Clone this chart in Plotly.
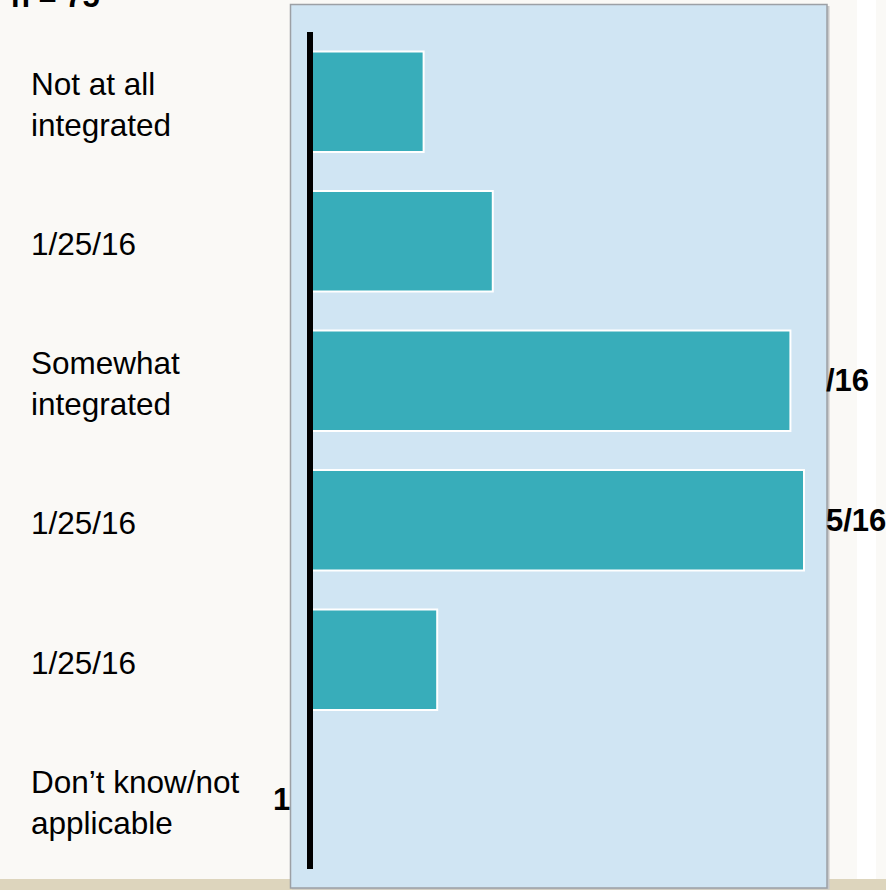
import plotly.graph_objects as go

# ---- data ----
categories = ["Not at all<br>integrated", "1/25/16", "Somewhat<br>integrated",
              "1/25/16", "1/25/16", "Don\u2019t know/not<br>applicable"]
values = [9.2, 14.8, 38.9, 40.0, 10.3, 0.0]
value_labels = ["", "", "/16", "5/16", "", "1"]
note_text = "n = 75"

W, H = 886, 890
FONT = "Liberation Sans, Arial, sans-serif"
TEAL = "#38ADBA"
BLUE = "#D0E5F3"

positions = list(range(len(categories)))

# layout geometry (pixels)
x_zero_px = 310
px_per_unit = 12.35
x_max = 42
x_dom = [x_zero_px / W, (x_zero_px + x_max * px_per_unit) / W]
y_top_px, y_bot_px = 32, 869
y_dom = [(H - y_bot_px) / H, (H - y_top_px) / H]

fig = go.Figure()
fig.add_trace(go.Bar(
    y=positions, x=values, orientation="h", width=0.72,
    marker=dict(color=TEAL, line=dict(color="white", width=2)),
    hoverinfo="skip", showlegend=False,
))

shapes = [
    # beige bottom stripe
    dict(type="rect", xref="paper", yref="paper", x0=0, x1=1,
         y0=0, y1=(H - 879) / H, fillcolor="#DDD5BD", line_width=0, layer="below"),
    # white band at right
    dict(type="rect", xref="paper", yref="paper", x0=857 / W, x1=876 / W,
         y0=(H - 879) / H, y1=1, fillcolor="#FFFFFF", line_width=0, layer="below"),
    # shadow of box
    dict(type="rect", xref="paper", yref="paper", x0=292 / W, x1=829.5 / W,
         y0=(H - 889.5) / H, y1=(H - 6) / H, fillcolor="#C8C8C8", line_width=0, layer="below"),
    # light-blue box
    dict(type="rect", xref="paper", yref="paper", x0=290.5 / W, x1=827 / W,
         y0=(H - 888) / H, y1=(H - 4.5) / H, fillcolor=BLUE,
         line=dict(color="#9CA0A5", width=1.5), layer="below"),
    # black axis line
    dict(type="line", xref="paper", yref="paper", x0=x_zero_px / W, x1=x_zero_px / W,
         y0=y_dom[0], y1=y_dom[1], line=dict(color="black", width=6), layer="above"),
]

annotations = []
for p, c in zip(positions, categories):
    annotations.append(dict(
        x=29 / W, xref="paper", y=p, yref="y", text=c, showarrow=False,
        xanchor="left", yanchor="middle", align="left", yshift=-3,
        font=dict(family=FONT, size=31.5, color="black")))

for p, v, lab in zip(positions, values, value_labels):
    if not lab:
        continue
    if v > 0:
        annotations.append(dict(
            x=824 / W, xref="paper", y=p, yref="y", text=f"<b>{lab}</b>", showarrow=False,
            xanchor="left", yanchor="middle",
            font=dict(family=FONT, size=31, color="black")))
    else:
        annotations.append(dict(
            x=292 / W, xref="paper", y=p, yref="y", text=f"<b>{lab}</b>", showarrow=False,
            xanchor="right", yanchor="middle",
            font=dict(family=FONT, size=31, color="black")))

annotations.append(dict(
    x=9 / W, xref="paper", y=(H - 16) / H, yref="paper", text=f"<b>{note_text}</b>",
    showarrow=False, xanchor="left", yanchor="bottom",
    font=dict(family=FONT, size=31, color="black")))

fig.update_layout(
    width=W, height=H, margin=dict(l=0, r=0, t=0, b=0),
    paper_bgcolor="#FAF9F6", plot_bgcolor="rgba(0,0,0,0)",
    xaxis=dict(domain=x_dom, range=[0, x_max], visible=False, fixedrange=True),
    yaxis=dict(domain=y_dom, range=[len(categories) - 0.5, -0.5], visible=False, fixedrange=True),
    shapes=shapes, annotations=annotations,
)

fig.write_html("out.html")
